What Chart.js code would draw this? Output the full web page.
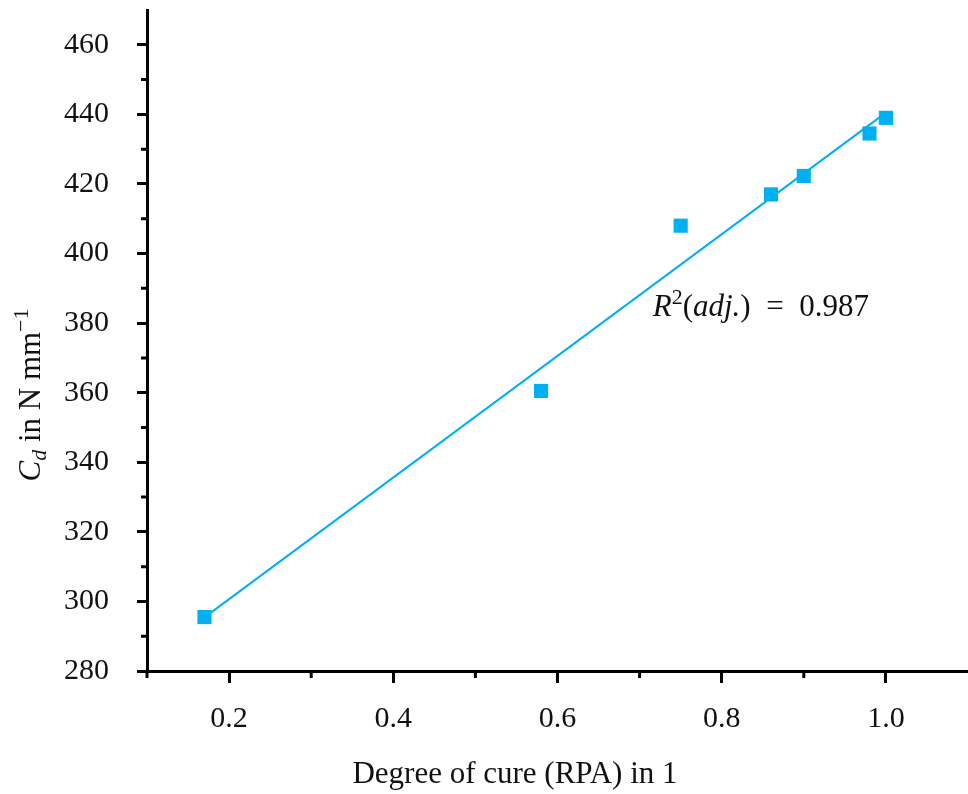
<!DOCTYPE html>
<html lang="en">
<head>
    <meta charset="UTF-8">
    <title>Degree of cure vs. C_d</title>
    <style>
        html, body { margin: 0; padding: 0; background: #fff; overflow: hidden; }
        /* a little wider than the window so the x axis runs to the right edge */
        .chart-container { width: 978px; height: 794px; position: relative; }
    </style>
</head>
<body>
    <div class="chart-container">
        <canvas id="cureChart"></canvas>
    </div>

    <script src="https://cdn.jsdelivr.net/npm/chart.js"></script>
    <script>
        // measured points
        const cureDegree = [0.17, 0.58, 0.75, 0.86, 0.90, 0.98, 1.00];
        const stiffness = [295.5, 360.5, 408, 417, 422.3, 434.5, 439];

        // linear fit end points
        const fitX = [0.17, 1.00];
        const fitY = [295.4, 440.5];
        const r2Adj = '0.987';

        const xTicks = [0.2, 0.4, 0.6, 0.8, 1.0];
        const xMinor = [0.1, 0.3, 0.5, 0.7, 0.9];
        const yTicks = [280, 300, 320, 340, 360, 380, 400, 420, 440, 460];
        const yMinor = [290, 310, 330, 350, 370, 390, 410, 430, 450];

        const blue = '#00B0F0';
        const serif = '"Liberation Serif", "DejaVu Serif", serif';
        const tickSize = 30;
        const titleSize = 31;

        // keep the axes from reserving room for label overhang
        const zeroPad = () => ({ left: 0, top: 0, right: 0, bottom: 0 });
        function noOverhang(s) {
            s.paddingTop = 0;
            s.paddingBottom = 0;
            s.paddingLeft = 0;
            s.paddingRight = 0;
            s.getPadding = zeroPad;
        }

        // draws the short minor ticks, axis titles and the R² note
        const extras = {
            id: 'extras',
            afterDraw(chart) {
                const ctx = chart.ctx;
                const xs = chart.scales.x;
                const ys = chart.scales.y;
                const area = chart.chartArea;
                ctx.save();
                ctx.strokeStyle = '#000';
                ctx.lineWidth = 3;
                ctx.beginPath();
                xMinor.forEach(v => {
                    const px = xs.getPixelForValue(v);
                    ctx.moveTo(px, area.bottom);
                    ctx.lineTo(px, area.bottom + 7);
                });
                yMinor.forEach(v => {
                    const py = ys.getPixelForValue(v);
                    ctx.moveTo(area.left, py);
                    ctx.lineTo(area.left - 6, py);
                });
                ctx.stroke();

                ctx.fillStyle = '#111';
                ctx.textBaseline = 'alphabetic';

                // x title
                ctx.font = titleSize + 'px ' + serif;
                ctx.textAlign = 'center';
                ctx.fillText('Degree of cure (RPA) in 1', 515, 783);

                // y title, rotated
                const parts = [
                    { t: 'C', f: 'italic ' + titleSize + 'px ' + serif, dy: 0 },
                    { t: 'd', f: 'italic ' + Math.round(titleSize * 0.7) + 'px ' + serif, dy: 6 },
                    { t: ' in N mm', f: titleSize + 'px ' + serif, dy: 0 },
                    { t: '\u22121', f: Math.round(titleSize * 0.7) + 'px ' + serif, dy: -12 }
                ];
                ctx.textAlign = 'left';
                let total = 0;
                parts.forEach(p => { ctx.font = p.f; total += ctx.measureText(p.t).width; });
                ctx.translate(40, 395);
                ctx.rotate(-Math.PI / 2);
                let cx = -total / 2;
                parts.forEach(p => {
                    ctx.font = p.f;
                    ctx.fillText(p.t, cx, p.dy);
                    cx += ctx.measureText(p.t).width;
                });
                ctx.setTransform(1, 0, 0, 1, 0, 0);

                // adjusted R² next to the fit
                const note = [
                    { t: 'R', f: 'italic ' + titleSize + 'px ' + serif, dy: 0 },
                    { t: '2', f: Math.round(titleSize * 0.7) + 'px ' + serif, dy: -12 },
                    { t: '(', f: titleSize + 'px ' + serif, dy: 0 },
                    { t: 'adj.', f: 'italic ' + titleSize + 'px ' + serif, dy: 0 },
                    { t: ')  =  ' + r2Adj, f: titleSize + 'px ' + serif, dy: 0 }
                ];
                let nx = xs.getPixelForValue(0.716);
                const ny = ys.getPixelForValue(382);
                note.forEach(p => {
                    ctx.font = p.f;
                    ctx.fillText(p.t, nx, ny + p.dy);
                    nx += ctx.measureText(p.t).width;
                });
                ctx.restore();
            }
        };

        const ctx = document.getElementById('cureChart').getContext('2d');

        new Chart(ctx, {
            type: 'scatter',
            data: {
                datasets: [
                    {
                        label: 'measured',
                        data: cureDegree.map((x, i) => ({ x: x, y: stiffness[i] })),
                        pointStyle: 'rect',
                        pointRadius: 10,
                        pointBorderWidth: 0,
                        backgroundColor: blue,
                        order: 0
                    },
                    {
                        label: 'fit',
                        type: 'line',
                        data: fitX.map((x, i) => ({ x: x, y: fitY[i] })),
                        borderColor: blue,
                        borderWidth: 2,
                        pointRadius: 0,
                        fill: false,
                        order: 1
                    }
                ]
            },
            options: {
                responsive: true,
                maintainAspectRatio: false,
                animation: false,
                layout: { padding: { top: 10, right: 0, left: 0, bottom: 0 } },
                plugins: {
                    legend: { display: false },
                    tooltip: { enabled: false }
                },
                scales: {
                    x: {
                        type: 'linear',
                        min: 0.1,
                        max: 1.1,
                        afterBuildTicks: s => { s.ticks = xTicks.map(v => ({ value: v })); },
                        afterFit: s => { s.height = 123; noOverhang(s); },
                        border: { color: '#000', width: 3 },
                        grid: { drawOnChartArea: false, tickLength: 12, tickWidth: 3, tickColor: '#000' },
                        ticks: {
                            color: '#111',
                            padding: 18,
                            font: { family: serif, size: tickSize },
                            callback: v => v.toFixed(1)
                        }
                    },
                    y: {
                        type: 'linear',
                        min: 280,
                        max: 470,
                        afterBuildTicks: s => { s.ticks = yTicks.map(v => ({ value: v })); },
                        afterFit: s => { s.width = 147; noOverhang(s); },
                        border: { color: '#000', width: 3 },
                        grid: { drawOnChartArea: false, tickLength: 10, tickWidth: 3, tickColor: '#000' },
                        ticks: {
                            color: '#111',
                            padding: 28,
                            font: { family: serif, size: tickSize },
                            callback: v => String(v)
                        }
                    }
                }
            },
            plugins: [extras]
        });
    </script>
</body>
</html>
